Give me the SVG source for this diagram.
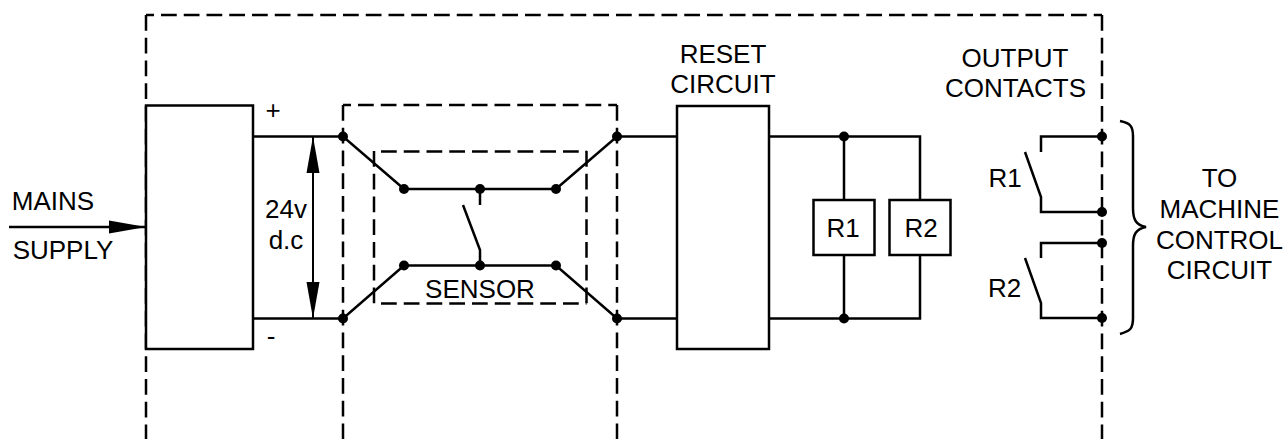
<svg xmlns="http://www.w3.org/2000/svg" width="1286" height="439" viewBox="0 0 1286 439">
<style>
.l{fill:none;stroke:#000;stroke-width:2.5}
.d{fill:none;stroke:#000;stroke-width:2.5;stroke-dasharray:15.75 7}
.h{stroke-dashoffset:7.75}
.b{fill:#fff;stroke:#000;stroke-width:2.5}
circle{r:5px;fill:#000}
text{font-family:"Liberation Sans",Arial,sans-serif;font-size:26px;fill:#000;text-anchor:middle}
</style>
<g id="boundaries">
<path class="d h" d="M146 15H1102"/>
<path class="d" d="M146 15V439"/>
<path class="d" d="M1102 15V439"/>
<path class="d h" d="M343 105H617"/>
<path class="d" d="M343 105V439"/>
<path class="d" d="M617 105V439"/>
<path class="d" d="M381 151.500H586.500"/>
<path class="d" d="M381 303.500H586.500"/>
<path class="d" d="M374 151V304"/>
<path class="d" d="M586.500 151V304"/>
</g>
<g id="connectors">
<path class="l" d="M253 136.500H343L404 189H556L617 136.500H677"/>
<path class="l" d="M253 318.500H343L404 265.500H556L617 318.500H677"/>
<path class="l" d="M480 189V205"/>
<path class="l" d="M463 205L480 250V265.500"/>
<path class="l" d="M769 136.500H920V200M920 255V318.500H769"/>
<path class="l" d="M844 136.500V200M844 255V318.500"/>
<path class="l" d="M1102 136.500H1041V152M1025 152L1041 197V212H1102"/>
<path class="l" d="M1102 243H1041V258M1025 258L1041 303V318H1102"/>
<path class="l" d="M1120 121C1130 123 1133 126 1133 136V208C1133 220 1136 225 1146 227C1136 229 1133 234 1133 246V318C1133 329 1130 331 1120 334"/>
<path d="M9 227H146" stroke="#000" stroke-width="2.500"/>
<path d="M109 220.500L146 227L109 233.500z"/>
<path d="M313 136.500V318.500" stroke="#000" stroke-width="2"/>
<path d="M313 136.500L319.500 173H306.500z"/>
<path d="M313 318.500L319.500 282H306.500z"/>
<g id="dots">
<circle cx="343" cy="136.500"/><circle cx="617" cy="136.500"/><circle cx="343" cy="318.500"/><circle cx="617" cy="318.500"/>
<circle cx="404" cy="189"/><circle cx="480" cy="189"/><circle cx="556" cy="189"/>
<circle cx="404" cy="265.500"/><circle cx="480" cy="265.500"/><circle cx="556" cy="265.500"/>
<circle cx="844" cy="136.500"/><circle cx="844" cy="318.500"/>
<circle cx="1102" cy="136.500"/><circle cx="1102" cy="212"/><circle cx="1102" cy="243"/><circle cx="1102" cy="318"/>
</g>
</g>
<g id="power"><rect class="b" x="146" y="105.500" width="107" height="243.500"/></g>
<g id="reset"><rect class="b" x="677" y="106" width="92" height="243"/></g>
<g id="relay1"><rect class="b" x="813.500" y="200" width="61" height="55"/><text x="843" y="237">R1</text></g>
<g id="relay2"><rect class="b" x="889.500" y="200" width="61" height="55"/><text x="921" y="237">R2</text></g>
<g id="labels">
<text x="53" y="210">MAINS</text>
<text x="63" y="259">SUPPLY</text>
<text x="273" y="119">+</text>
<text x="271" y="345">-</text>
<text x="286" y="218">24v</text>
<text x="286" y="249">d.c</text>
<text x="480" y="298">SENSOR</text>
<text x="723" y="63">RESET</text>
<text x="723" y="93">CIRCUIT</text>
<text x="1015" y="67">OUTPUT</text>
<text x="1015.500" y="97">CONTACTS</text>
<text x="1005" y="187">R1</text>
<text x="1004.500" y="297">R2</text>
<text x="1219.500" y="187">TO</text>
<text x="1219.500" y="218">MACHINE</text>
<text x="1219.500" y="249">CONTROL</text>
<text x="1219.500" y="279">CIRCUIT</text>
</g>
</svg>
